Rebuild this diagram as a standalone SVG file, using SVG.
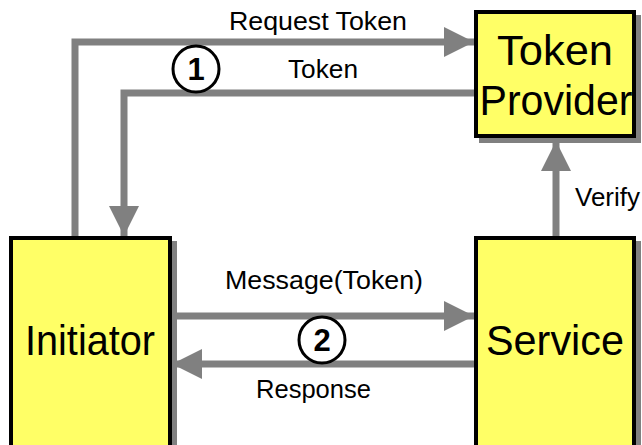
<svg xmlns="http://www.w3.org/2000/svg" width="642" height="445" viewBox="0 0 642 445">
<style>
.box{fill:#ffff66;stroke:#000;stroke-width:4}
.shadow{fill:#808080}
.node{font-family:"Liberation Sans",Arial,sans-serif;font-size:43px;fill:#000;text-anchor:middle}
.lbl{font-family:"Liberation Sans",Arial,sans-serif;font-size:25px;fill:#000}
.conn{fill:none;stroke:#808080;stroke-width:7}
.step{fill:#fff;stroke:#000;stroke-width:3}
.num{font-family:"Liberation Sans",Arial,sans-serif;font-size:31px;font-weight:bold;fill:#000;text-anchor:middle}
</style>
<defs>
<marker id="ah" markerUnits="userSpaceOnUse" markerWidth="30" markerHeight="30" refX="30" refY="15" orient="auto">
<path d="M0,0 L30,15 L0,30 Z" fill="#808080"/>
</marker>
</defs>
<rect width="642" height="445" fill="#fff"/>
<g id="token-provider">
<rect class="shadow" x="479" y="15" width="162" height="128"/>
<rect class="box" x="476" y="12" width="158" height="124"/>
<text class="node" x="555" y="65" textLength="116" lengthAdjust="spacingAndGlyphs">Token</text>
<text class="node" x="556" y="115" textLength="153" lengthAdjust="spacingAndGlyphs">Provider</text>
</g>
<g id="initiator">
<rect class="shadow" x="14" y="241" width="163" height="230"/>
<rect class="box" x="11" y="238" width="159" height="230"/>
<text class="node" x="90" y="355" textLength="130" lengthAdjust="spacingAndGlyphs">Initiator</text>
</g>
<g id="service">
<rect class="shadow" x="479" y="241" width="162" height="230"/>
<rect class="box" x="476" y="238" width="158" height="230"/>
<text class="node" x="555" y="355" textLength="138" lengthAdjust="spacingAndGlyphs">Service</text>
</g>
<g id="connectors">
<path class="conn" d="M75,236 V42 H474" marker-end="url(#ah)"/>
<path class="conn" d="M474,93 H124 V236" marker-end="url(#ah)"/>
<path class="conn" d="M556,236 V141" marker-end="url(#ah)"/>
<path class="conn" d="M172,316 H474" marker-end="url(#ah)"/>
<path class="conn" d="M474,364 H172" marker-end="url(#ah)"/>
<text class="lbl" x="229" y="30" textLength="178" lengthAdjust="spacingAndGlyphs">Request Token</text>
<text class="lbl" x="288" y="78" textLength="70" lengthAdjust="spacingAndGlyphs">Token</text>
<text class="lbl" x="575" y="206" textLength="65" lengthAdjust="spacingAndGlyphs">Verify</text>
<text class="lbl" x="225" y="289" textLength="198" lengthAdjust="spacingAndGlyphs">Message(Token)</text>
<text class="lbl" x="256" y="398" textLength="115" lengthAdjust="spacingAndGlyphs">Response</text>
</g>
<g id="step1">
<circle class="step" cx="196" cy="69" r="23"/>
<text class="num" x="196" y="80">1</text>
</g>
<g id="step2">
<circle class="step" cx="322" cy="340" r="23"/>
<text class="num" x="322" y="351">2</text>
</g>
</svg>
